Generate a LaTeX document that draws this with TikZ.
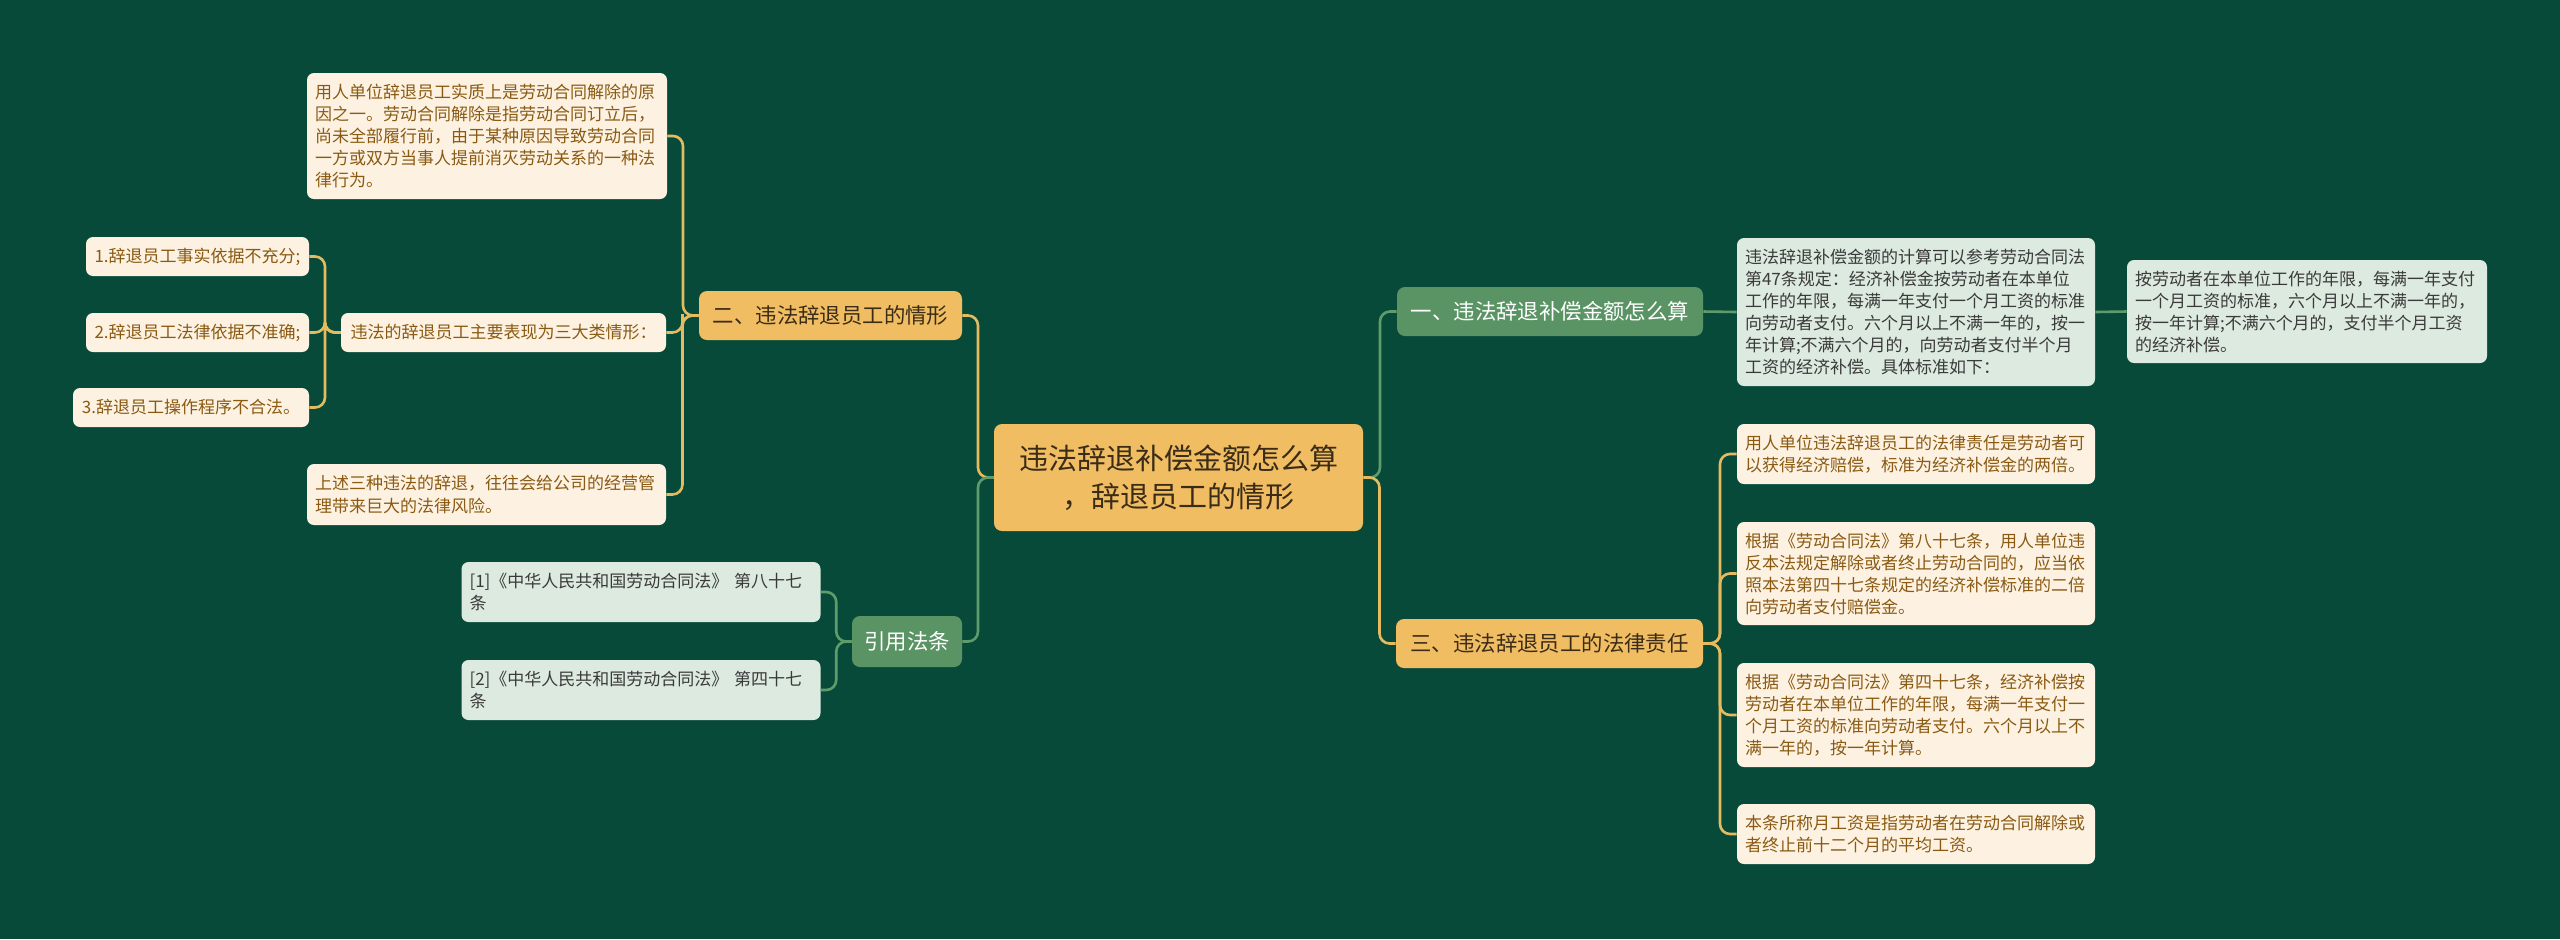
\documentclass[tikz,border=0pt]{standalone}
\usepackage{fontspec}
\setmainfont{Noto Sans CJK SC}
\usetikzlibrary{calc}
\definecolor{bg}{HTML}{074A3A}
\definecolor{orangef}{HTML}{F1BD63}
\definecolor{greenf}{HTML}{5A9465}
\definecolor{creamf}{HTML}{FDF2E2}
\definecolor{lgreenf}{HTML}{DDEADF}
\definecolor{brownt}{HTML}{8A5A12}
\definecolor{darkt}{HTML}{3A3A3A}
\definecolor{roott}{HTML}{3A2C16}
\definecolor{oline}{HTML}{E5BB60}
\definecolor{gline}{HTML}{5F9C6C}
\begin{document}
\begin{tikzpicture}[x=0.5pt,y=-0.5pt,
  box/.style={rounded corners=3.5pt, inner xsep=4pt, inner ysep=0pt, align=left, anchor=center},
  para/.style={box, fill=creamf, text=brownt, font=\fontsize{8.5}{11}\selectfont},
  gpara/.style={box, fill=lgreenf, text=darkt, font=\fontsize{8.5}{11}\selectfont},
  item/.style={box, fill=creamf, text=brownt, font=\fontsize{8.5}{11}\selectfont, align=center, minimum height=19.5pt},
  obranch/.style={rounded corners=4pt, fill=orangef, text=roott, font=\fontsize{10.7}{13}\selectfont, inner sep=0pt, minimum height=24.5pt},
  gbranch/.style={rounded corners=4pt, fill=greenf, text=white, font=\fontsize{10.7}{13}\selectfont, inner sep=0pt, minimum height=24.5pt},
  rootbox/.style={rounded corners=4pt, fill=orangef, text=roott, font=\fontsize{14.5}{19}\selectfont, inner sep=0pt, align=center, minimum width=184.5pt, minimum height=53.5pt},
  oconn/.style={draw=oline, line width=1.3pt, rounded corners=5pt},
  gconn/.style={draw=gline, line width=1.3pt, rounded corners=5pt}
]
\path[use as bounding box, fill=bg] (0,0) rectangle (2560,939);

% root and main branches
\node[rootbox] (root) at (1178.5,477.5) {违法辞退补偿金额怎么算\\，辞退员工的情形};
\node[gbranch, minimum width=153pt] (b1) at (1550,311.5) {一、违法辞退补偿金额怎么算};
\node[obranch, minimum width=131.5pt] (b2) at (830.5,315.5) {二、违法辞退员工的情形};
\node[obranch, minimum width=153.5pt] (b3) at (1549.5,643.5) {三、违法辞退员工的法律责任};
\node[gbranch, minimum width=55pt, minimum height=25.5pt] (b4) at (907,641.5) {引用法条};

% branch 1
\node[gpara, text width=171pt, minimum height=74pt] (b1c) at (1916,312) {违法辞退补偿金额的计算可以参考劳动合同法\\第47条规定：经济补偿金按劳动者在本单位\\工作的年限，每满一年支付一个月工资的标准\\向劳动者支付。六个月以上不满一年的，按一\\年计算;不满六个月的，向劳动者支付半个月\\工资的经济补偿。具体标准如下：};
\node[gpara, text width=172pt, minimum height=51.5pt] (b1cc) at (2307,311.5) {按劳动者在本单位工作的年限，每满一年支付\\一个月工资的标准，六个月以上不满一年的，\\按一年计算;不满六个月的，支付半个月工资\\的经济补偿。};

% branch 3
\node[para, text width=171pt, minimum height=30pt] (c1) at (1916,454) {用人单位违法辞退员工的法律责任是劳动者可\\以获得经济赔偿，标准为经济补偿金的两倍。};
\node[para, text width=171pt, minimum height=51.5pt] (c2) at (1916,573.5) {根据《劳动合同法》第八十七条，用人单位违\\反本法规定解除或者终止劳动合同的，应当依\\照本法第四十七条规定的经济补偿标准的二倍\\向劳动者支付赔偿金。};
\node[para, text width=171pt, minimum height=52pt] (c3) at (1916,715) {根据《劳动合同法》第四十七条，经济补偿按\\劳动者在本单位工作的年限，每满一年支付一\\个月工资的标准向劳动者支付。六个月以上不\\满一年的，按一年计算。};
\node[para, text width=171pt, minimum height=30pt] (c4) at (1916,834) {本条所称月工资是指劳动者在劳动合同解除或\\者终止前十二个月的平均工资。};

% branch 2
\node[para, text width=172pt, minimum height=63pt] (p1) at (487,136) {用人单位辞退员工实质上是劳动合同解除的原\\因之一。劳动合同解除是指劳动合同订立后，\\尚未全部履行前，由于某种原因导致劳动合同\\一方或双方当事人提前消灭劳动关系的一种法\\律行为。};
\node[item, minimum width=162.5pt] (p2) at (503.5,332.5) {违法的辞退员工主要表现为三大类情形：};
\node[para, text width=171.5pt, minimum height=30.5pt] (p3) at (486.5,494.5) {上述三种违法的辞退，往往会给公司的经营管\\理带来巨大的法律风险。};
\node[item, minimum width=111.5pt] (i1) at (197.5,256.5) {1.辞退员工事实依据不充分;};
\node[item, minimum width=111.5pt] (i2) at (197.5,332.5) {2.辞退员工法律依据不准确;};
\node[item, minimum width=118pt] (i3) at (191,407.5) {3.辞退员工操作程序不合法。};

% branch 4
\node[gpara, text width=171.5pt, minimum height=30pt] (r1) at (641,592) {[1]《中华人民共和国劳动合同法》 第八十七\\条};
\node[gpara, text width=171.5pt, minimum height=30pt] (r2) at (641,690) {[2]《中华人民共和国劳动合同法》 第四十七\\条};

% connectors from root
\draw[gconn] (root.east) -| ($(root.east)!0.5!(b1.west)$) |- (b1.west);
\draw[oconn] (root.east) -| ($(root.east)!0.5!(b3.west)$) |- (b3.west);
\draw[oconn] (root.west) -| ($(root.west)!0.5!(b2.east)$) |- (b2.east);
\draw[gconn] (root.west) -| ($(root.west)!0.5!(b4.east)$) |- (b4.east);

% branch 1 connectors
\draw[gconn] (b1.east) -- (b1c.west);
\draw[gconn] (b1c.east) -- (b1cc.west);

% branch 3 connectors
\foreach \c in {c1,c2,c3,c4}
  \draw[oconn] (b3.east) -| ($(b3.east)!0.5!(\c.west)$) |- (\c.west);

% branch 2 connectors
\foreach \c in {p1,p2,p3}
  \draw[oconn] (b2.west) -| ($(b2.west)!0.5!(\c.east)$) |- (\c.east);
\foreach \c in {i1,i2,i3}
  \draw[oconn] (p2.west) -| ($(p2.west)!0.5!(i2.east)$) |- (\c.east);

% branch 4 connectors
\foreach \c in {r1,r2}
  \draw[gconn] (b4.west) -| ($(b4.west)!0.5!(\c.east)$) |- (\c.east);
\end{tikzpicture}
\end{document}
